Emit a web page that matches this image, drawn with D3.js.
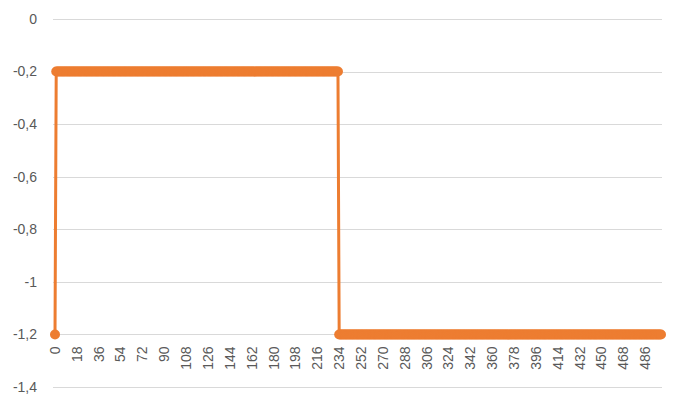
<!DOCTYPE html>
<html>
<head>
<meta charset="utf-8">
<script src="https://cdn.jsdelivr.net/npm/d3@7"></script>
<style>
html,body{margin:0;padding:0;background:#fff;}
svg{display:block;}
text{font-family:"Liberation Sans",Arial,sans-serif;fill:#595959;}
</style>
</head>
<body>
<svg id="chart" width="680" height="406"></svg>
<script>
// Series values (index 0 .. 499)
const seriesValues = [
-1.2,
// indices 1..233 at -0.2
-0.2,-0.2,-0.2,-0.2,-0.2,-0.2,-0.2,-0.2,-0.2,-0.2,-0.2,-0.2,-0.2,-0.2,-0.2,-0.2,-0.2,-0.2,-0.2,-0.2,
-0.2,-0.2,-0.2,-0.2,-0.2,-0.2,-0.2,-0.2,-0.2,-0.2,-0.2,-0.2,-0.2,-0.2,-0.2,-0.2,-0.2,-0.2,-0.2,-0.2,
-0.2,-0.2,-0.2,-0.2,-0.2,-0.2,-0.2,-0.2,-0.2,-0.2,-0.2,-0.2,-0.2,-0.2,-0.2,-0.2,-0.2,-0.2,-0.2,-0.2,
-0.2,-0.2,-0.2,-0.2,-0.2,-0.2,-0.2,-0.2,-0.2,-0.2,-0.2,-0.2,-0.2,-0.2,-0.2,-0.2,-0.2,-0.2,-0.2,-0.2,
-0.2,-0.2,-0.2,-0.2,-0.2,-0.2,-0.2,-0.2,-0.2,-0.2,-0.2,-0.2,-0.2,-0.2,-0.2,-0.2,-0.2,-0.2,-0.2,-0.2,
-0.2,-0.2,-0.2,-0.2,-0.2,-0.2,-0.2,-0.2,-0.2,-0.2,-0.2,-0.2,-0.2,-0.2,-0.2,-0.2,-0.2,-0.2,-0.2,-0.2,
-0.2,-0.2,-0.2,-0.2,-0.2,-0.2,-0.2,-0.2,-0.2,-0.2,-0.2,-0.2,-0.2,-0.2,-0.2,-0.2,-0.2,-0.2,-0.2,-0.2,
-0.2,-0.2,-0.2,-0.2,-0.2,-0.2,-0.2,-0.2,-0.2,-0.2,-0.2,-0.2,-0.2,-0.2,-0.2,-0.2,-0.2,-0.2,-0.2,-0.2,
-0.2,-0.2,-0.2,-0.2,-0.2,-0.2,-0.2,-0.2,-0.2,-0.2,-0.2,-0.2,-0.2,-0.2,-0.2,-0.2,-0.2,-0.2,-0.2,-0.2,
-0.2,-0.2,-0.2,-0.2,-0.2,-0.2,-0.2,-0.2,-0.2,-0.2,-0.2,-0.2,-0.2,-0.2,-0.2,-0.2,-0.2,-0.2,-0.2,-0.2,
-0.2,-0.2,-0.2,-0.2,-0.2,-0.2,-0.2,-0.2,-0.2,-0.2,-0.2,-0.2,-0.2,-0.2,-0.2,-0.2,-0.2,-0.2,-0.2,-0.2,
-0.2,-0.2,-0.2,-0.2,-0.2,-0.2,-0.2,-0.2,-0.2,-0.2,-0.2,-0.2,-0.2,
// indices 234..499 at -1.2
-1.2,-1.2,-1.2,-1.2,-1.2,-1.2,-1.2,-1.2,-1.2,-1.2,-1.2,-1.2,-1.2,-1.2,-1.2,-1.2,-1.2,-1.2,-1.2,-1.2,
-1.2,-1.2,-1.2,-1.2,-1.2,-1.2,-1.2,-1.2,-1.2,-1.2,-1.2,-1.2,-1.2,-1.2,-1.2,-1.2,-1.2,-1.2,-1.2,-1.2,
-1.2,-1.2,-1.2,-1.2,-1.2,-1.2,-1.2,-1.2,-1.2,-1.2,-1.2,-1.2,-1.2,-1.2,-1.2,-1.2,-1.2,-1.2,-1.2,-1.2,
-1.2,-1.2,-1.2,-1.2,-1.2,-1.2,-1.2,-1.2,-1.2,-1.2,-1.2,-1.2,-1.2,-1.2,-1.2,-1.2,-1.2,-1.2,-1.2,-1.2,
-1.2,-1.2,-1.2,-1.2,-1.2,-1.2,-1.2,-1.2,-1.2,-1.2,-1.2,-1.2,-1.2,-1.2,-1.2,-1.2,-1.2,-1.2,-1.2,-1.2,
-1.2,-1.2,-1.2,-1.2,-1.2,-1.2,-1.2,-1.2,-1.2,-1.2,-1.2,-1.2,-1.2,-1.2,-1.2,-1.2,-1.2,-1.2,-1.2,-1.2,
-1.2,-1.2,-1.2,-1.2,-1.2,-1.2,-1.2,-1.2,-1.2,-1.2,-1.2,-1.2,-1.2,-1.2,-1.2,-1.2,-1.2,-1.2,-1.2,-1.2,
-1.2,-1.2,-1.2,-1.2,-1.2,-1.2,-1.2,-1.2,-1.2,-1.2,-1.2,-1.2,-1.2,-1.2,-1.2,-1.2,-1.2,-1.2,-1.2,-1.2,
-1.2,-1.2,-1.2,-1.2,-1.2,-1.2,-1.2,-1.2,-1.2,-1.2,-1.2,-1.2,-1.2,-1.2,-1.2,-1.2,-1.2,-1.2,-1.2,-1.2,
-1.2,-1.2,-1.2,-1.2,-1.2,-1.2,-1.2,-1.2,-1.2,-1.2,-1.2,-1.2,-1.2,-1.2,-1.2,-1.2,-1.2,-1.2,-1.2,-1.2,
-1.2,-1.2,-1.2,-1.2,-1.2,-1.2,-1.2,-1.2,-1.2,-1.2,-1.2,-1.2,-1.2,-1.2,-1.2,-1.2,-1.2,-1.2,-1.2,-1.2,
-1.2,-1.2,-1.2,-1.2,-1.2,-1.2,-1.2,-1.2,-1.2,-1.2,-1.2,-1.2,-1.2,-1.2,-1.2,-1.2,-1.2,-1.2,-1.2,-1.2,
-1.2,-1.2,-1.2,-1.2,-1.2,-1.2,-1.2,-1.2,-1.2,-1.2,-1.2,-1.2,-1.2,-1.2,-1.2,-1.2,-1.2,-1.2,-1.2,-1.2,
-1.2,-1.2,-1.2,-1.2,-1.2,-1.2
];
// Categories: the point index
const categories = seriesValues.map((v, i) => i);
// Tick labels
const xTickLabels = [0,18,36,54,72,90,108,126,144,162,180,198,216,234,252,270,288,306,324,342,360,378,396,414,432,450,468,486];
const yTickValues = [0,-0.2,-0.4,-0.6,-0.8,-1,-1.2,-1.4];

const svg = d3.select("#chart");
const gridLeft = 53, gridRight = 662, plotTop = 19, plotBottom = 387;
const color = "#ED7D31";

const x = d3.scalePoint().domain(categories).range([55, 661]);
const y = d3.scaleLinear().domain([-1.4, 0]).range([plotBottom, plotTop]);

const fmt = v => (v === 0 ? "0" : String(v).replace(".", ","));

// gridlines
svg.append("g").selectAll("line").data(yTickValues).join("line")
  .attr("x1", gridLeft).attr("x2", gridRight)
  .attr("y1", d => Math.round(y(d)) + 0.5).attr("y2", d => Math.round(y(d)) + 0.5)
  .attr("stroke", "#D9D9D9").attr("stroke-width", 1);

// y labels
svg.append("g").selectAll("text").data(yTickValues).join("text")
  .attr("x", 37).attr("y", d => y(d)).attr("dy", "0.35em")
  .attr("text-anchor", "end").style("font-size", "14px")
  .text(fmt);

// x labels (rotated) just below -1.2 level
const xLabY = y(-1.2) + 12;
svg.append("g").selectAll("text").data(xTickLabels).join("text")
  .attr("transform", d => `translate(${x(d)},${xLabY}) rotate(-90)`)
  .attr("dy", "0.35em").attr("text-anchor", "end").style("font-size", "14px")
  .text(d => d);

// line
const line = d3.line().x((d, i) => x(categories[i])).y(d => y(d));
svg.append("path").datum(seriesValues)
  .attr("d", line).attr("fill", "none")
  .attr("stroke", color).attr("stroke-width", 3).attr("stroke-linejoin", "round");

// markers
svg.append("g").selectAll("circle").data(seriesValues).join("circle")
  .attr("cx", (d, i) => x(categories[i])).attr("cy", d => y(d))
  .attr("r", 5).attr("fill", color);
</script>
</body>
</html>
